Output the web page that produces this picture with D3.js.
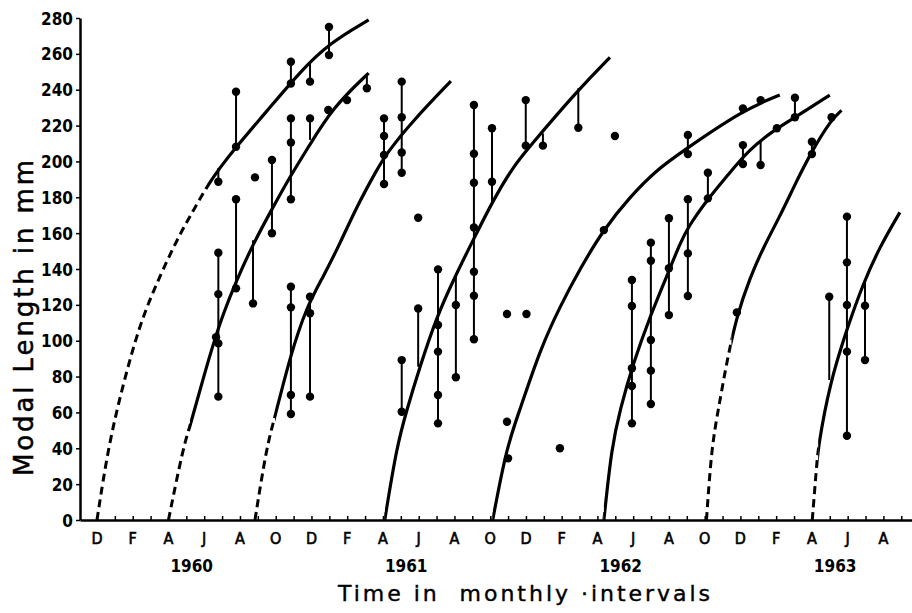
<!DOCTYPE html>
<html>
<head>
<meta charset="utf-8">
<script src="https://cdn.jsdelivr.net/npm/d3@7/dist/d3.min.js"></script>
<style>
    body { margin: 0; background: #fff; }
    svg { display: block; }
    .tick-label { font-family: "DejaVu Sans Condensed", "DejaVu Sans", sans-serif; font-weight: bold; fill: #000; }
    .axis-title { font-family: "DejaVu Sans", sans-serif; fill: #000; white-space: pre; }
</style>
</head>
<body>
<div id="chart"></div>
<script>
// time is counted in months from December 1959 (= 0)
const monthLabels = ["D", "F", "A", "J", "A", "O", "D", "F", "A", "J", "A", "O",
    "D", "F", "A", "J", "A", "O", "D", "F", "A", "J", "A"];
const yearLabels = ["1960", "1961", "1962", "1963"];
const lengthTicks = [0, 20, 40, 60, 80, 100, 120, 140, 160, 180, 200, 220, 240, 260, 280];

// growth curves, one per brood: [month, modal length mm]
const broodDec59 = [[0, 0], [0.63, 40.9], [1.47, 76.2], [2.41, 109.7], [3.34, 132], [4.46, 156.2],
    [5.2, 169.2], [6.14, 186], [6.88, 196.5], [7.78, 208], [9.5, 228], [11.36, 250], [13.0, 266], [15.2, 278.9]];
const broodApr60 = [[4, 0], [4.83, 40.9], [5.2, 52], [5.76, 72.5], [6.51, 98.5], [7.07, 115.3], [7.82, 133.9],
    [8.75, 154.3], [9.86, 174.7], [10.8, 191.5], [11.73, 206.4], [13.2, 230.3], [15.2, 249.3]];
const broodSep60 = [[8.84, 0], [9.49, 40.9], [9.96, 57.6], [10.8, 91.1], [11.73, 119], [12.66, 135.7],
    [13.6, 154.3], [14.53, 174.7], [15.65, 195.2], [16.2, 204.5], [17.7, 223], [19.8, 244.8]];
const broodApr61 = [[16.1, 0], [16.77, 40.9], [17.33, 61.3], [18.07, 85.5], [19.0, 113.4], [20.12, 137.6],
    [21.05, 156.2], [22.17, 178.5], [23.29, 197], [24.04, 206.4], [27.0, 240.8], [28.7, 258]];
const broodOct61 = [[22.14, 0], [22.92, 40.9], [23.66, 61.3], [24.78, 94.8], [25.9, 119], [27.02, 140],
    [28.32, 161.7], [29.82, 180.3], [31.31, 195.2], [32.6, 204.5], [36.15, 228.7], [38.2, 237]];
const broodApr62 = [[28.36, 0], [28.8, 40.9], [29.26, 61.3], [30.0, 87.4], [30.94, 113.4], [31.87, 135.7],
    [32.62, 154.3], [33.08, 163.6], [34.2, 179.4], [35.23, 191.5], [36.44, 206.4], [38.03, 218.5],
    [39.14, 225], [41.0, 237]];
const broodOct62 = [[34.1, 0], [34.39, 40.9], [34.76, 61.3], [35.23, 88], [35.8, 114], [36.53, 135],
    [37.28, 152], [38.2, 169.2], [39.14, 189], [39.98, 205.5], [41.1, 223.5], [41.66, 228.5]];
const broodApr63 = [[40.02, 0], [40.26, 29.7], [40.35, 40.9], [41.0, 76.2], [41.94, 106], [42.87, 132],
    [43.8, 152.4], [44.92, 171.6]];
// month where the extrapolated (dashed) part of each curve ends
const solidFrom = [6.15, 5.2, 9.96, 16.1, 22.14, 28.36, 35.5, 40.35];

// vertical ranges: [month, low, high]
const ranges = [
    [6.79, 188.7, 196.4], [6.79, 68.8, 149.1],
    [7.78, 208.2, 238.9], [7.78, 129.2, 178.9],
    [8.73, 120.8, 156],
    [9.79, 159.9, 200.8],
    [10.85, 243.5, 255.6], [10.85, 178.9, 224], [10.85, 59.1, 130.1],
    [11.92, 244.5, 254.7], [11.92, 212, 224], [11.92, 68.8, 124.5],
    [12.98, 259.3, 275],
    [15.1, 240.8, 249.1],
    [16.06, 187.4, 224],
    [17.05, 193.7, 244.5], [17.05, 60.4, 89.2],
    [17.97, 85.5, 118],
    [19.08, 53.9, 139.8],
    [20.08, 79.6, 136],
    [21.09, 100.8, 231.5],
    [22.1, 176.6, 218.5],
    [23.99, 208.8, 234.2],
    [24.95, 208.8, 215.6],
    [26.93, 218.8, 240.8],
    [29.93, 53.9, 133.9],
    [30.99, 64.7, 154.7],
    [32.0, 114.3, 168.3],
    [33.06, 204.1, 214.7], [33.06, 124.9, 178.9],
    [34.18, 179.4, 193.7],
    [36.14, 198.6, 209.1],
    [37.13, 198, 212],
    [39.05, 224.6, 235.5],
    [40.0, 204.1, 211],
    [40.97, 78.1, 124.5],
    [41.96, 47, 169.2],
    [42.97, 89.2, 134]
];

// observed modal lengths: [month, mm]
const modes = [
    [6.79, 188.7], [6.79, 149.1], [6.79, 126], [6.66, 102], [6.79, 98.5], [6.79, 68.8],
    [7.78, 238.9], [7.78, 208.2], [7.78, 178.9], [7.78, 129.2],
    [8.84, 191.1], [8.73, 120.8],
    [9.79, 200.8], [9.79, 159.9],
    [10.85, 255.6], [10.85, 243.5], [10.85, 224], [10.85, 210.6], [10.85, 178.9],
    [10.85, 130.1], [10.85, 118.6], [10.85, 69.7], [10.85, 59.1],
    [11.92, 244.5], [11.92, 224], [11.92, 124.5], [11.92, 115.3], [11.92, 68.8],
    [12.98, 275], [12.98, 259.3], [12.94, 228.7],
    [13.99, 234.2],
    [15.1, 240.8],
    [16.06, 224], [16.06, 214.2], [16.06, 203.6], [16.06, 187.4],
    [17.05, 244.5], [17.05, 224.6], [17.05, 205], [17.05, 193.7], [17.05, 89.2], [17.05, 60.4],
    [17.97, 118], [17.97, 168.6],
    [19.08, 139.8], [19.08, 108.8], [19.08, 93.9], [19.08, 69.7], [19.08, 53.9],
    [20.08, 119.9], [20.08, 79.6],
    [21.09, 231.5], [21.09, 204.3], [21.09, 188.1], [21.09, 163.2], [21.09, 138.5], [21.09, 125.1], [21.09, 100.8],
    [22.1, 218.5], [22.1, 188.7],
    [22.94, 114.9], [22.94, 54.8], [23.0, 34.4],
    [24.03, 114.9], [23.99, 234.2], [23.99, 208.8],
    [24.95, 208.8],
    [25.9, 40],
    [26.93, 218.8],
    [28.36, 161.7],
    [28.98, 214.2],
    [29.93, 133.9], [29.93, 119.4], [29.93, 84.6], [29.93, 74.7], [29.93, 53.9],
    [30.99, 154.7], [30.99, 144.6], [30.99, 100.4], [30.99, 83.3], [30.99, 64.7],
    [32.0, 168.3], [32.0, 140.4], [32.0, 114.3],
    [33.06, 214.7], [33.06, 204.1], [33.06, 178.9], [33.06, 148.7], [33.06, 124.9],
    [34.18, 193.7], [34.18, 179.4],
    [35.8, 115.8],
    [36.14, 229.6], [36.14, 209.1], [36.14, 198.6],
    [37.13, 234.2], [37.13, 198],
    [38.04, 218.5],
    [39.05, 235.5], [39.05, 224.6],
    [40.0, 211], [40.0, 204.1],
    [41.1, 224.6],
    [40.97, 124.5],
    [41.96, 169.2], [41.96, 143.7], [41.96, 119.9], [41.96, 93.9], [41.96, 47],
    [42.97, 119.5], [42.97, 89.2]
];

const curves = [broodDec59, broodApr60, broodSep60, broodApr61, broodOct61, broodApr62, broodOct62, broodApr63];

const width = 912, height = 613;

const svg = d3.select("#chart")
    .append("svg")
    .attr("width", width)
    .attr("height", height);

const x = d3.scaleLinear().domain([-0.95, 45.6]).range([80, 912]);
const y = d3.scaleLinear().domain([0, 280]).range([520, 18]);

// growth curves: dashed part clipped left of solidFrom, solid part right of it
const line = d3.line()
    .x(d => x(d[0]))
    .y(d => y(d[1]))
    .curve(d3.curveBasis);

const defs = svg.append("defs");
curves.forEach((pts, i) => {
    defs.append("clipPath").attr("id", "dash" + i)
        .append("rect")
        .attr("x", 0).attr("y", 0)
        .attr("width", x(solidFrom[i])).attr("height", height);
    defs.append("clipPath").attr("id", "solid" + i)
        .append("rect")
        .attr("x", x(solidFrom[i])).attr("y", 0)
        .attr("width", width - x(solidFrom[i])).attr("height", height);

    svg.append("path")
        .datum(pts)
        .attr("d", line)
        .attr("fill", "none")
        .attr("stroke", "#000")
        .attr("stroke-width", 3)
        .attr("stroke-dasharray", "8,5")
        .attr("clip-path", `url(#dash${i})`);

    svg.append("path")
        .datum(pts)
        .attr("d", line)
        .attr("fill", "none")
        .attr("stroke", "#000")
        .attr("stroke-width", 3.2)
        .attr("clip-path", `url(#solid${i})`);
});

// ranges of modes
svg.selectAll(".range")
    .data(ranges)
    .join("line")
    .attr("class", "range")
    .attr("x1", d => x(d[0]))
    .attr("x2", d => x(d[0]))
    .attr("y1", d => y(d[1]))
    .attr("y2", d => y(d[2]))
    .attr("stroke", "#000")
    .attr("stroke-width", 2);

svg.selectAll(".mode")
    .data(modes)
    .join("circle")
    .attr("class", "mode")
    .attr("cx", d => x(d[0]))
    .attr("cy", d => y(d[1]))
    .attr("r", 4.2)
    .attr("fill", "#000");

// y axis
const yAxis = svg.append("g")
    .attr("transform", "translate(80,0)")
    .call(d3.axisLeft(y).tickValues(lengthTicks).tickSize(4).tickSizeOuter(0).tickPadding(3));
yAxis.select(".domain").attr("stroke-width", 2.5);
yAxis.selectAll(".tick line").attr("stroke-width", 1.5);
yAxis.selectAll(".tick text")
    .attr("class", "tick-label")
    .style("font-size", "17px")
    .attr("dy", "0.36em");

// x axis: a small upward tick every month
const xAxis = svg.append("g")
    .attr("transform", "translate(0,520)")
    .call(d3.axisBottom(x).tickValues(d3.range(0, 46)).tickSize(-4).tickSizeOuter(0).tickFormat(""));
xAxis.select(".domain").attr("stroke-width", 2.5);
xAxis.selectAll(".tick line").attr("stroke-width", 1.5);

svg.selectAll(".month-label")
    .data(monthLabels)
    .join("text")
    .attr("class", "tick-label month-label")
    .attr("x", (d, i) => x(i * 2))
    .attr("y", 544)
    .attr("text-anchor", "middle")
    .style("font-size", "16px")
    .style("font-weight", "normal")
    .style("stroke", "#000")
    .style("stroke-width", 0.6)
    .text(d => d);

svg.selectAll(".year-label")
    .data(yearLabels)
    .join("text")
    .attr("class", "tick-label year-label")
    .attr("x", (d, i) => x(5.3 + i * 12))
    .attr("y", 572)
    .attr("text-anchor", "middle")
    .style("font-size", "17px")
    .text(d => d);

// axis titles
svg.append("text")
    .attr("class", "axis-title")
    .attr("x", 338)
    .attr("y", 601)
    .attr("textLength", 372)
    .attr("lengthAdjust", "spacing")
    .style("font-size", "22px")
    .style("stroke", "#000")
    .style("stroke-width", 0.4)
    .text("Time in  monthly ·intervals");

svg.append("text")
    .attr("class", "axis-title")
    .attr("transform", "translate(33,476) rotate(-90)")
    .attr("x", 0)
    .attr("y", 0)
    .attr("textLength", 316)
    .attr("lengthAdjust", "spacing")
    .style("font-size", "26px")
    .style("stroke", "#000")
    .style("stroke-width", 0.5)
    .text("Modal Length in mm");
</script>
</body>
</html>
